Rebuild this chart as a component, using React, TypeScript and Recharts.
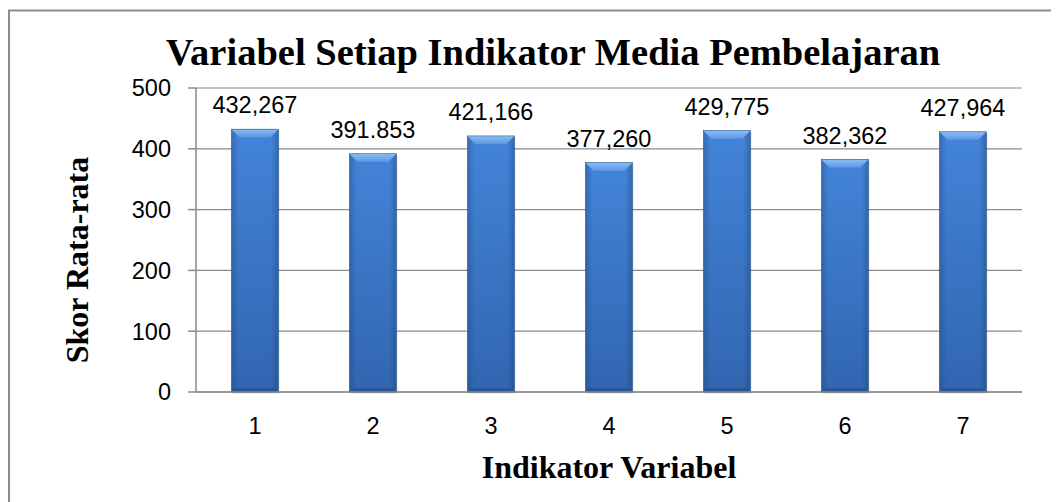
import React from "react";
import { BarChart, Bar, XAxis, YAxis, CartesianGrid, LabelList, Label } from "recharts";

const categories = ["1", "2", "3", "4", "5", "6", "7"];
const scores = [432.267, 391.853, 421.166, 377.26, 429.775, 382.362, 427.964];
const valueLabels = ["432,267", "391.853", "421,166", "377,260", "429,775", "382,362", "427,964"];
const yTicks = [0, 100, 200, 300, 400, 500];
const boundaryTicks = [0, 1, 2, 3, 4, 5, 6, 7];

const data = categories.map((c, i) => ({ cat: c, score: scores[i], label: valueLabels[i] }));

const W = 1051;
const H = 494;
const GRID = "#8a8a8a";
const SANS = "Liberation Sans, Arial, sans-serif";
const SERIF = "Liberation Serif, Times New Roman, serif";

const BevelBar = (props: any) => {
  const { x, y, width, height } = props;
  if (height <= 0) return null;
  const b = Math.min(8, height / 2);
  return (
    <g>
      <rect x={x + 1} y={y + 1.5} width={width} height={height} fill="#000" opacity={0.15} />
      <rect x={x} y={y} width={width} height={height} fill="url(#barBody)" />
      <rect x={x} y={y} width={width} height={height} fill="url(#barSide)" />
      <polygon
        points={`${x},${y} ${x + width},${y} ${x + width - b},${y + b} ${x + b},${y + b}`}
        fill="url(#barTop)"
      />
      <polygon
        points={`${x},${y + height} ${x + b * 0.5},${y + height - b * 0.5} ${x + width - b * 0.5},${y + height - b * 0.5} ${x + width},${y + height}`}
        fill="#24508c"
        opacity={0.7}
      />
      <rect x={x} y={y} width={width} height={height} fill="none" stroke="#2e5e9e" strokeWidth={0.6} />
    </g>
  );
};

export default function App() {
  return (
    <div style={{ position: "relative", width: W, height: H, overflow: "hidden", background: "#fff" }}>
      <style>{"html,body{overflow:hidden;}"}</style>
      <BarChart
        width={W}
        height={H}
        data={data}
        margin={{ top: 80, right: 37, left: 128, bottom: 70 }}
        barCategoryGap="30%"
      >
        <defs>
          <linearGradient id="barBody" x1="0" y1="0" x2="0" y2="1">
            <stop offset="0%" stopColor="#4384d8" />
            <stop offset="100%" stopColor="#3166b0" />
          </linearGradient>
          <linearGradient id="barSide" x1="0" y1="0" x2="1" y2="0">
            <stop offset="0%" stopColor="#1d3f70" stopOpacity={0.35} />
            <stop offset="15%" stopColor="#1d3f70" stopOpacity={0} />
            <stop offset="85%" stopColor="#1d3f70" stopOpacity={0} />
            <stop offset="100%" stopColor="#1d3f70" stopOpacity={0.4} />
          </linearGradient>
          <linearGradient id="barTop" x1="0" y1="0" x2="0" y2="1">
            <stop offset="0%" stopColor="#8cbcf2" />
            <stop offset="100%" stopColor="#5c98e4" />
          </linearGradient>
        </defs>
        <CartesianGrid vertical={false} stroke={GRID} strokeWidth={1.2} />
        <XAxis
          xAxisId="bounds"
          type="number"
          domain={[0, 7]}
          ticks={boundaryTicks}
          tick={false}
          tickLine={{ stroke: GRID, strokeWidth: 1.5 }}
          tickSize={8}
          axisLine={false}
          height={0}
        />
        <XAxis
          dataKey="cat"
          tickLine={false}
          axisLine={{ stroke: GRID, strokeWidth: 1.5 }}
          tick={{ fill: "#000", fontSize: 23.5, fontFamily: SANS }}
          tickMargin={19}
          height={40}
        >
          <Label
            content={(p: any) => {
              const vb = p.viewBox;
              return (
                <text
                  x={vb.x + vb.width / 2}
                  y={470}
                  textAnchor="middle"
                  fontFamily={SERIF}
                  fontWeight="bold"
                  fontSize={32}
                  fill="#000"
                >
                  Indikator Variabel
                </text>
              );
            }}
          />
        </XAxis>
        <YAxis
          domain={[0, 500]}
          ticks={yTicks}
          width={60}
          tickSize={8}
          tickMargin={17}
          tickLine={{ stroke: GRID, strokeWidth: 1.5 }}
          axisLine={{ stroke: GRID, strokeWidth: 1.5 }}
          tick={{ fill: "#000", fontSize: 23.5, fontFamily: SANS }}
        >
          <Label
            content={() => (
              <text
                x={80}
                y={252}
                transform="rotate(-90 80 252)"
                textAnchor="middle"
                fontFamily={SERIF}
                fontWeight="bold"
                fontSize={32}
                fill="#000"
              >
                Skor Rata-rata
              </text>
            )}
          />
        </YAxis>
        <Bar dataKey="score" shape={<BevelBar />} isAnimationActive={false}>
          <LabelList
            dataKey="label"
            position="top"
            offset={16}
            fill="#000"
            fontSize={23.5}
            fontFamily={SANS}
          />
        </Bar>
      </BarChart>
      <svg
        width={W}
        height={H}
        style={{ position: "absolute", left: 0, top: 0, pointerEvents: "none" }}
      >
        <rect x={1} y={2.5} width={3000} height={3000} fill="none" stroke="#8c8c8c" strokeWidth={2} />
        <text
          x={545}
          y={57}
          textAnchor="middle"
          fontFamily={SERIF}
          fontWeight="bold"
          fontSize={38.5}
          fill="#000"
        >
          Variabel Setiap Indikator Media Pembelajaran
        </text>
      </svg>
    </div>
  );
}
